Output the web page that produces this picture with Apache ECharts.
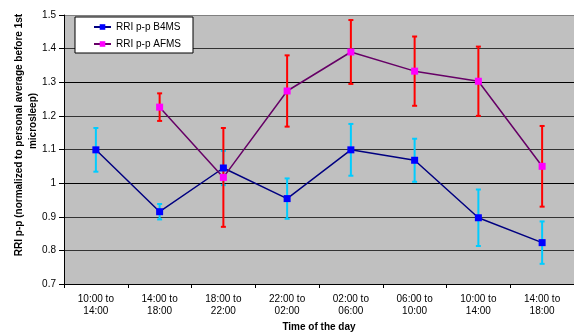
<!DOCTYPE html>
<html>
<head>
<meta charset="utf-8">
<script src="https://cdn.jsdelivr.net/npm/echarts@6/dist/echarts.min.js"></script>
<style>
  html, body { margin: 0; padding: 0; background: #fff; }
  #chart { width: 574px; height: 335px; }
</style>
</head>
<body>
<div id="chart"></div>
<script>
  // time slots on x axis
  var categories = ['10:00 to\n14:00', '14:00 to\n18:00', '18:00 to\n22:00', '22:00 to\n02:00',
    '02:00 to\n06:00', '06:00 to\n10:00', '10:00 to\n14:00', '14:00 to\n18:00'];
  // before first microsleep
  var b4msMean = [1.099, 0.915, 1.045, 0.954, 1.099, 1.068, 0.897, 0.823];
  var b4msErr = [0.065, 0.023, 0.051, 0.060, 0.077, 0.064, 0.084, 0.063];
  // after first microsleep (no value for first slot)
  var afmsMean = [null, 1.226, 1.017, 1.274, 1.390, 1.333, 1.303, 1.050];
  var afmsErr = [null, 0.041, 0.147, 0.106, 0.095, 0.103, 0.103, 0.120];

  var chart = echarts.init(document.getElementById('chart'));
  var font = 'Liberation Sans, Arial, sans-serif';

  function errData(mean, err) {
    var out = [];
    for (var i = 0; i < mean.length; i++) {
      if (mean[i] == null) continue;
      out.push([i, mean[i] - err[i], mean[i] + err[i]]);
    }
    return out;
  }

  function errorBars(color) {
    return function (params, api) {
      var x = api.value(0);
      var top = api.coord([x, api.value(2)]);
      var bot = api.coord([x, api.value(1)]);
      var w = 2.5;
      var st = { stroke: color, lineWidth: 2 };
      return {
        type: 'group',
        children: [
          { type: 'line', shape: { x1: top[0], y1: top[1], x2: bot[0], y2: bot[1] }, style: st },
          { type: 'line', shape: { x1: top[0] - w, y1: top[1], x2: top[0] + w, y2: top[1] }, style: st },
          { type: 'line', shape: { x1: bot[0] - w, y1: bot[1], x2: bot[0] + w, y2: bot[1] }, style: st }
        ]
      };
    };
  }

  var option = {
    animation: false,
    textStyle: { fontFamily: font },
    grid: {
      left: 64, right: 0, top: 15, bottom: 51,
      outerBoundsMode: 'none', containLabel: false,
      show: true, backgroundColor: '#c0c0c0', borderWidth: 0
    },
    legend: {
      orient: 'vertical',
      left: 75, top: 17,
      padding: [5, 12, 4, 18],
      itemGap: 7,
      itemWidth: 17, itemHeight: 7,
      backgroundColor: '#fff',
      borderColor: '#000', borderWidth: 1,
      borderRadius: 0,
      textStyle: { fontSize: 10, color: '#000', fontFamily: font },
      data: ['RRI p-p B4MS', 'RRI p-p AFMS']
    },
    xAxis: {
      type: 'category',
      data: categories,
      boundaryGap: true,
      axisLine: { lineStyle: { color: '#000', width: 1 } },
      axisTick: { show: true, interval: 0, length: 4, lineStyle: { color: '#000' } },
      axisLabel: { interval: 0, fontSize: 10, color: '#000', margin: 9, lineHeight: 12 },
      splitLine: { show: false },
      name: 'Time of the day',
      nameLocation: 'middle',
      nameGap: 32,
      nameTextStyle: { fontSize: 10, fontWeight: 'bold', color: '#000' }
    },
    yAxis: {
      type: 'value',
      min: 0.7, max: 1.5, interval: 0.1,
      axisLine: { show: true, lineStyle: { color: '#000', width: 1 } },
      axisTick: { show: true, length: 5, lineStyle: { color: '#000' } },
      axisLabel: {
        fontSize: 10, color: '#000', margin: 8,
        formatter: function (v) { return +v.toFixed(1) + ''; }
      },
      splitLine: {
        show: true,
        lineStyle: { color: ['#000', '#333', '#333', '#000', '#333', '#333', '#000', '#333', '#808080'], width: 1 }
      }
    },
    graphic: [
      {
        type: 'text', x: 19, y: 135, rotation: Math.PI / 2,
        style: { text: 'RRI p-p (normalized to personal average before 1st', fontSize: 10, fontWeight: 'bold',
          fontFamily: font, fill: '#000', textAlign: 'center', textVerticalAlign: 'middle' }
      },
      {
        type: 'text', x: 33, y: 121, rotation: Math.PI / 2,
        style: { text: 'microsleep)', fontSize: 10, fontWeight: 'bold',
          fontFamily: font, fill: '#000', textAlign: 'center', textVerticalAlign: 'middle' }
      }
    ],
    series: [
      {
        type: 'custom', name: 'b4ms err', z: 2,
        renderItem: errorBars('#00ccff'),
        data: errData(b4msMean, b4msErr)
      },
      {
        type: 'custom', name: 'afms err', z: 3,
        renderItem: errorBars('#ff0000'),
        data: errData(afmsMean, afmsErr)
      },
      {
        name: 'RRI p-p B4MS', type: 'line', z: 4,
        data: b4msMean,
        symbol: 'rect', symbolSize: 7,
        lineStyle: { color: '#000080', width: 1.5 },
        itemStyle: { color: '#0000ff' }
      },
      {
        name: 'RRI p-p AFMS', type: 'line', z: 5,
        data: afmsMean,
        connectNulls: false,
        symbol: 'rect', symbolSize: 7,
        lineStyle: { color: '#660066', width: 1.5 },
        itemStyle: { color: '#ff00ff' }
      }
    ]
  };

  chart.setOption(option);
</script>
</body>
</html>
